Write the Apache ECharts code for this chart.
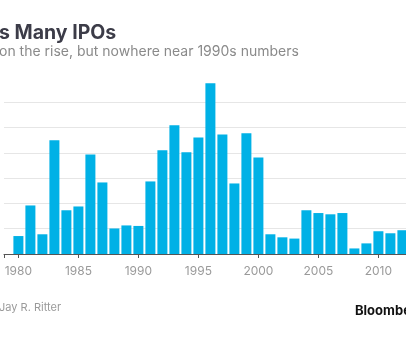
<!DOCTYPE html>
<html>
<head>
<meta charset="utf-8">
<script src="https://cdn.jsdelivr.net/npm/echarts@6/dist/echarts.min.js"></script>
<style>
  html, body { margin: 0; padding: 0; background: #fff; overflow: hidden; }
  #chart { width: 440px; height: 339px; }
</style>
</head>
<body>
<div id="chart"></div>
<script>
// Annual U.S. IPO counts
const years = [1980, 1981, 1982, 1983, 1984, 1985, 1986, 1987, 1988, 1989,
               1990, 1991, 1992, 1993, 1994, 1995, 1996, 1997, 1998, 1999,
               2000, 2001, 2002, 2003, 2004, 2005, 2006, 2007, 2008, 2009,
               2010, 2011, 2012];
const ipoCounts = [71, 192, 78, 450, 173, 188, 394, 283, 101, 113,
                   111, 287, 410, 509, 402, 461, 675, 473, 279, 478,
                   382, 78, 66, 61, 173, 162, 157, 162, 22, 42,
                   90, 82, 94];
const yearTicks = [1980, 1985, 1990, 1995, 2000, 2005, 2010];

const titleText = 's Many IPOs';
const subtitleText = 'on the rise, but nowhere near 1990s numbers';
const sourceText = 'Jay R. Ritter';
const brandText = 'Bloomberg';

const xMin = 1978.8;
const xMax = 2014;
const pxPerYear = 12;
const plotLeft = 4;

const chart = echarts.init(document.getElementById('chart'), null, { renderer: 'canvas' });

chart.setOption({
  animation: false,
  backgroundColor: '#ffffff',
  grid: {
    left: plotLeft,
    top: 102.3,
    width: (xMax - xMin) * pxPerYear,
    height: 151.7,
    containLabel: false
  },
  xAxis: {
    type: 'value',
    min: xMin,
    max: xMax,
    axisLine: { show: true, lineStyle: { color: '#555555', width: 1 } },
    axisTick: {
      show: true,
      customValues: [xMin].concat(yearTicks),
      length: 4,
      lineStyle: { color: '#555555', width: 1 }
    },
    axisLabel: {
      customValues: yearTicks,
      formatter: v => String(Math.round(v)),
      color: '#9a9a9a',
      fontFamily: 'Inter',
      fontSize: 12,
      margin: 11
    },
    splitLine: { show: false }
  },
  yAxis: {
    type: 'value',
    min: 0,
    max: 600,
    interval: 100,
    axisLine: { show: false },
    axisTick: { show: false },
    axisLabel: { show: false },
    splitLine: { show: true, lineStyle: { color: '#e6e6e6', width: 1 } }
  },
  series: [{
    type: 'bar',
    data: years.map((y, i) => [y, ipoCounts[i]]),
    barWidth: 10,
    clip: false,
    itemStyle: { color: '#00b1e6' }
  }],
  graphic: [
    {
      type: 'text', left: -1, top: 23,
      style: { text: titleText, font: 'bold 19.5px Inter', fill: '#3c3c48' }
    },
    {
      type: 'text', left: -1, top: 45,
      style: { text: subtitleText, font: '14px Inter', fill: '#8a8a8a' }
    },
    {
      type: 'text', left: -1, top: 302,
      style: { text: sourceText, font: '11px Inter', fill: '#9a9a9a' }
    },
    {
      type: 'text', left: 355, top: 305,
      style: { text: brandText, font: 'bold 13px Inter', fill: '#111111' }
    }
  ]
});
</script>
</body>
</html>
